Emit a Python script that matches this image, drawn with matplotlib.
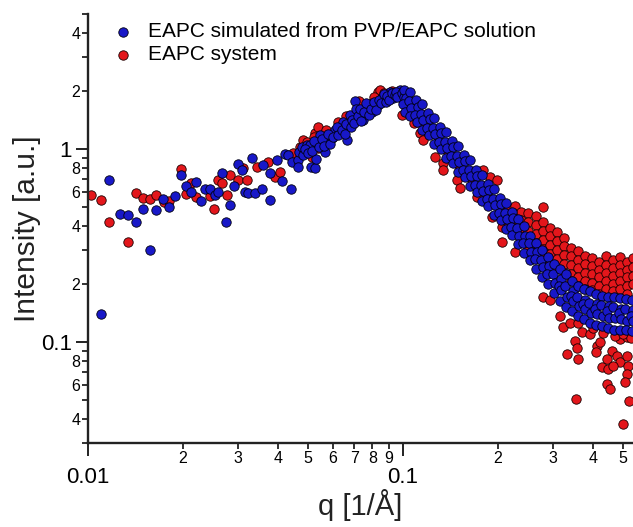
import numpy as np
import matplotlib.pyplot as plt
from matplotlib.ticker import LogLocator, FuncFormatter

plt.rcParams['font.family'] = ['Liberation Sans', 'DejaVu Sans']

# Blue series: EAPC simulated from PVP/EAPC solution
q_blue_low = [0.0110, 0.0117, 0.0126, 0.0134, 0.0142, 0.0150, 0.0157, 0.0164,
              0.0173, 0.0181, 0.0189, 0.0197, 0.0205, 0.0212, 0.0220, 0.0228,
              0.0235, 0.0244, 0.0253, 0.0259, 0.0266, 0.0274, 0.0282, 0.0290,
              0.0299, 0.0308, 0.0315, 0.0322, 0.0332, 0.0340, 0.0357, 0.0360,
              0.0378, 0.0378, 0.0398, 0.0413, 0.0422, 0.0430, 0.0442, 0.0444,
              0.0464, 0.0464, 0.0467, 0.0477, 0.0496, 0.0507, 0.0510, 0.0525,
              0.0530, 0.0533, 0.0545, 0.0565, 0.0570, 0.0595, 0.0607, 0.0631,
              0.0645, 0.0665, 0.0679, 0.0704, 0.0709, 0.0745, 0.0760, 0.0771,
              0.0800, 0.0831, 0.0860, 0.0909, 0.0930, 0.0978, 0.1000, 0.1026]
i_blue_low = [0.140, 0.690, 0.460, 0.455, 0.420, 0.490, 0.300, 0.485,
              0.550, 0.500, 0.570, 0.730, 0.640, 0.600, 0.675, 0.540,
              0.620, 0.620, 0.580, 0.600, 0.750, 0.420, 0.510, 0.640,
              0.840, 0.780, 0.600, 0.590, 0.900, 0.590, 0.620, 0.830,
              0.750, 0.545, 0.880, 0.680, 0.940, 0.930, 0.620, 0.857,
              0.880, 0.810, 0.970, 1.020, 1.050, 1.050, 0.810, 0.800,
              0.890, 1.070, 1.180, 0.965, 1.090, 1.140, 1.250, 1.220,
              1.380, 1.110, 1.500, 1.770, 1.610, 1.410, 1.590, 1.690,
              1.550, 1.690, 1.830, 1.970, 1.830, 2.020, 1.790, 1.900]

q_blue_ridge = [0.0480, 0.0490, 0.0500, 0.0515, 0.0520, 0.0540, 0.0555, 0.0560,
                0.0580, 0.0585, 0.0600, 0.0615, 0.0620, 0.0640, 0.0655, 0.0660,
                0.0685, 0.0690, 0.0700, 0.0720, 0.0730, 0.0735, 0.0750, 0.0765,
                0.0780, 0.0790, 0.0810, 0.0820, 0.0840, 0.0850, 0.0870, 0.0880,
                0.0890, 0.0900, 0.0920, 0.0940, 0.0950, 0.0960, 0.0990, 0.1010]
i_blue_ridge = [0.93, 1.00, 0.95, 0.98, 1.10, 1.02, 1.12, 1.03,
                1.20, 1.06, 1.15, 1.30, 1.18, 1.26, 1.20, 1.35,
                1.30, 1.42, 1.36, 1.48, 1.62, 1.40, 1.55, 1.72,
                1.50, 1.62, 1.75, 1.60, 1.80, 1.72, 1.92, 1.76,
                1.88, 1.80, 1.95, 1.90, 1.98, 1.86, 1.95, 1.86]

q_blue_band = [0.1007, 0.1019, 0.0998, 0.1013, 0.1052, 0.1046, 0.1063, 0.1049,
               0.1100, 0.1112, 0.1093, 0.1105, 0.1149, 0.1141, 0.1160, 0.1152,
               0.1201, 0.1214, 0.1195, 0.1208, 0.1254, 0.1247, 0.1266, 0.1258,
               0.1310, 0.1323, 0.1302, 0.1316, 0.1369, 0.1360, 0.1381, 0.1372,
               0.1430, 0.1444, 0.1422, 0.1436, 0.1494, 0.1486, 0.1508, 0.1498,
               0.1562, 0.1577, 0.1553, 0.1568, 0.1632, 0.1623, 0.1648, 0.1637,
               0.1705, 0.1721, 0.1696, 0.1711, 0.1781, 0.1772, 0.1798, 0.1786,
               0.1861, 0.1879, 0.1851, 0.1867, 0.1945, 0.1935, 0.1963, 0.1951,
               0.2032, 0.2051, 0.2021, 0.2039, 0.2123, 0.2112, 0.2143, 0.2130,
               0.2218, 0.2239, 0.2206, 0.2225, 0.2317, 0.2305, 0.2339, 0.2324,
               0.2421, 0.2444, 0.2408, 0.2429, 0.2530, 0.2516, 0.2554, 0.2538,
               0.2643, 0.2668, 0.2629, 0.2651, 0.2761, 0.2746, 0.2787, 0.2770,
               0.2885, 0.2912, 0.2869, 0.2894, 0.3014, 0.2998, 0.3043, 0.3023,
               0.3149, 0.3179, 0.3132, 0.3165, 0.3140, 0.3290, 0.3272, 0.3321, 0.3300,
               0.3438, 0.3470, 0.3419, 0.3455, 0.3430, 0.3592, 0.3573, 0.3626, 0.3603,
               0.3753, 0.3788, 0.3733, 0.3770, 0.3745, 0.3922, 0.3901, 0.3959, 0.3934,
               0.4098, 0.4137, 0.4076, 0.4116, 0.4088, 0.4282, 0.4259, 0.4322, 0.4295,
               0.4474, 0.4516, 0.4450, 0.4494, 0.4462, 0.4675, 0.4650, 0.4719, 0.4690,
               0.4885, 0.4931, 0.4859, 0.4906, 0.4872, 0.5104, 0.5077, 0.5152, 0.5120,
               0.5333, 0.5380, 0.5305, 0.5360, 0.5320]
i_blue_band = [2.017, 1.834, 1.707, 1.552, 1.970, 1.769, 1.628, 1.480,
               1.790, 1.647, 1.498, 1.378, 1.707, 1.516, 1.411, 1.254,
               1.534, 1.428, 1.284, 1.181, 1.445, 1.284, 1.195, 1.061,
               1.299, 1.209, 1.087, 1.000, 1.224, 1.087, 1.012, 0.899,
               1.100, 1.024, 0.920, 0.847, 1.036, 0.920, 0.857, 0.761,
               0.931, 0.867, 0.779, 0.717, 0.877, 0.779, 0.726, 0.644,
               0.779, 0.726, 0.652, 0.600, 0.734, 0.652, 0.607, 0.539,
               0.660, 0.614, 0.552, 0.508, 0.622, 0.552, 0.514, 0.456,
               0.559, 0.520, 0.467, 0.430, 0.526, 0.467, 0.435, 0.386,
               0.473, 0.440, 0.396, 0.360, 0.435, 0.391, 0.356, 0.323,
               0.400, 0.356, 0.327, 0.290, 0.356, 0.327, 0.294, 0.267,
               0.327, 0.294, 0.270, 0.240, 0.301, 0.267, 0.246, 0.218,
               0.277, 0.249, 0.224, 0.201, 0.255, 0.226, 0.203, 0.180,
               0.240, 0.211, 0.196, 0.185, 0.164, 0.224, 0.196, 0.172, 0.151,
               0.206, 0.183, 0.174, 0.164, 0.144, 0.196, 0.172, 0.153, 0.136,
               0.189, 0.166, 0.157, 0.148, 0.131, 0.183, 0.160, 0.142, 0.126,
               0.178, 0.157, 0.148, 0.139, 0.122, 0.174, 0.155, 0.136, 0.121,
               0.172, 0.153, 0.144, 0.134, 0.118, 0.172, 0.151, 0.133, 0.116,
               0.170, 0.149, 0.141, 0.131, 0.115, 0.168, 0.148, 0.129, 0.115,
               0.166, 0.146, 0.137, 0.128, 0.114]

# Red series: EAPC system
q_red_low = [0.0102, 0.0110, 0.0117, 0.0134, 0.0142, 0.0150, 0.0157, 0.0164,
             0.0174, 0.0181, 0.0197, 0.0205, 0.0212, 0.0220, 0.0244, 0.0251,
             0.0259, 0.0266, 0.0276, 0.0282, 0.0299, 0.0310, 0.0320, 0.0344,
             0.0373, 0.0392, 0.0407, 0.0448, 0.0470, 0.0480, 0.0496, 0.0515,
             0.0525, 0.0537, 0.0537, 0.0578, 0.0620, 0.0660, 0.0725, 0.0725,
             0.0797, 0.0831, 0.0845, 0.0888, 0.0966, 0.0990]
i_red_low = [0.579, 0.545, 0.420, 0.330, 0.590, 0.560, 0.550, 0.580,
             0.530, 0.540, 0.790, 0.585, 0.670, 0.565, 0.570, 0.490,
             0.690, 0.670, 0.580, 0.735, 0.690, 0.800, 0.690, 0.810,
             0.860, 0.720, 0.760, 0.950, 1.020, 1.110, 1.087, 0.910,
             1.210, 1.010, 1.300, 1.210, 1.380, 1.480, 1.530, 1.770,
             1.730, 1.970, 2.020, 1.880, 1.950, 1.500]

q_red_ridge = [0.052, 0.057, 0.065, 0.069, 0.076, 0.081, 0.087, 0.092, 0.095,
               0.101, 0.104, 0.106, 0.108, 0.109, 0.111, 0.113, 0.113, 0.116,
               0.118, 0.123, 0.1263, 0.129, 0.1339, 0.1339, 0.136, 0.142,
               0.148, 0.150, 0.1517, 0.158, 0.166, 0.1714, 0.175, 0.1789,
               0.185, 0.189, 0.1915, 0.196, 0.1983, 0.205, 0.2068, 0.2068, 0.2266]
i_red_ridge = [1.15, 1.25, 1.33, 1.45, 1.62, 1.85, 1.95, 2.00, 1.90,
               1.95, 1.80, 1.70, 1.36, 1.58, 1.65, 1.45, 1.21, 1.11,
               1.33, 1.22, 0.909, 1.10, 0.847, 0.779, 1.00, 0.92,
               0.69, 0.83, 0.629, 0.76, 0.70, 0.565, 0.63, 0.779,
               0.58, 0.717, 0.446, 0.52, 0.692, 0.47, 0.396, 0.331, 0.294]

q_red_cluster = [0.2162, 0.2162, 0.2162,
                 0.2266, 0.2266, 0.2266, 0.2266,
                 0.2375, 0.2375, 0.2375, 0.2375,
                 0.2498, 0.2498, 0.2498, 0.2498, 0.2498,
                 0.2643, 0.2643, 0.2643, 0.2643, 0.2643,
                 0.2786, 0.2786, 0.2786, 0.2786, 0.2786, 0.2786,
                 0.2928, 0.2928, 0.2928, 0.2928, 0.2928,
                 0.3083, 0.3083, 0.3083, 0.3083, 0.3083,
                 0.3245, 0.3245, 0.3245, 0.3245, 0.3245,
                 0.3415, 0.3415, 0.3415, 0.3415, 0.3415,
                 0.3592, 0.3592, 0.3592, 0.3592, 0.3592,
                 0.3782, 0.3782, 0.3782, 0.3782, 0.3782,
                 0.3981, 0.3981, 0.3981, 0.3981, 0.3981,
                 0.4190, 0.4190, 0.4190, 0.4190, 0.4190,
                 0.4409, 0.4409, 0.4409, 0.4409, 0.4409,
                 0.4642, 0.4642, 0.4642, 0.4642, 0.4642,
                 0.4885, 0.4885, 0.4885, 0.4885, 0.4885,
                 0.5141, 0.5141, 0.5141, 0.5141, 0.5141,
                 0.5370, 0.5370, 0.5370, 0.5370]
i_red_cluster = [0.496, 0.451, 0.405,
                 0.508, 0.462, 0.420, 0.373,
                 0.473, 0.430, 0.386, 0.347,
                 0.467, 0.420, 0.377, 0.339, 0.308,
                 0.451, 0.405, 0.364, 0.327, 0.294,
                 0.502, 0.420, 0.377, 0.339, 0.304, 0.274,
                 0.391, 0.356, 0.319, 0.287, 0.258,
                 0.373, 0.335, 0.301, 0.270, 0.243,
                 0.347, 0.316, 0.284, 0.255, 0.229,
                 0.308, 0.280, 0.252, 0.226, 0.206,
                 0.297, 0.267, 0.243, 0.218, 0.196,
                 0.280, 0.255, 0.229, 0.208, 0.189,
                 0.274, 0.249, 0.224, 0.203, 0.185,
                 0.261, 0.237, 0.216, 0.194, 0.178,
                 0.280, 0.252, 0.229, 0.208, 0.189,
                 0.267, 0.243, 0.221, 0.201, 0.183,
                 0.277, 0.252, 0.229, 0.208, 0.189,
                 0.261, 0.237, 0.216, 0.196, 0.178,
                 0.274, 0.246, 0.221, 0.199]

q_red_tail = [0.2783, 0.2928, 0.3149, 0.3221, 0.3390, 0.3516, 0.3568, 0.3316,
              0.3592, 0.4128, 0.4098, 0.4282, 0.4474, 0.4607, 0.4442, 0.4779,
              0.4885, 0.5141, 0.5179, 0.5141, 0.5067, 0.4442, 0.4541, 0.3542,
              0.5217, 0.4993, 0.3700, 0.3922, 0.4885, 0.5141, 0.4220, 0.4642,
              0.3600, 0.4000, 0.4300, 0.4700, 0.5000, 0.5300]
i_red_tail = [0.172, 0.166, 0.136, 0.119, 0.126, 0.1008, 0.0928, 0.0864,
              0.0814, 0.0950, 0.0885, 0.0740, 0.0723, 0.0895, 0.0814, 0.0844,
              0.0786, 0.0844, 0.0749, 0.0681, 0.0619, 0.0605, 0.0570, 0.0506,
              0.0494, 0.0376, 0.1122, 0.1096, 0.1032, 0.1058, 0.0997, 0.0749,
              0.125, 0.118, 0.112, 0.108, 0.110, 0.105]

q_blue = q_blue_low + q_blue_ridge + q_blue_band
i_blue = i_blue_low + i_blue_ridge + i_blue_band
q_red = q_red_low + q_red_ridge + q_red_cluster + q_red_tail
i_red = i_red_low + i_red_ridge + i_red_cluster + i_red_tail

fig = plt.figure(figsize=(6.33, 5.27), dpi=100)
ax = fig.add_axes([0.139, 0.1594, 0.861, 0.814])

ax.scatter(q_red, i_red, s=46, color='#e3161b', edgecolors='#1a0000',
           linewidths=0.6, zorder=2, label='EAPC system')
ax.scatter(q_blue, i_blue, s=46, color='#1818c8', edgecolors='#000010',
           linewidths=0.6, zorder=3, label='EAPC simulated from PVP/EAPC solution')

ax.set_xscale('log')
ax.set_yscale('log')
ax.set_xlim(0.01, 0.537)
ax.set_ylim(0.03, 5.0)

# ticks: decades with big labels, digits for the minor ones
def fmt_major(v, pos):
    return f"{v:g}"

def mantissa(v):
    return int(round(v / 10 ** np.floor(np.log10(v) + 1e-9)))

def fmt_minor_x(v, pos):
    return str(mantissa(v))

def fmt_minor_y(v, pos):
    m = mantissa(v)
    return str(m) if m % 2 == 0 else ""

for axis in (ax.xaxis, ax.yaxis):
    axis.set_major_locator(LogLocator(base=10, numticks=10))
    axis.set_minor_locator(LogLocator(base=10, subs=np.arange(2, 10), numticks=20))
    axis.set_major_formatter(FuncFormatter(fmt_major))
ax.xaxis.set_minor_formatter(FuncFormatter(fmt_minor_x))
ax.yaxis.set_minor_formatter(FuncFormatter(fmt_minor_y))

ax.tick_params(which='major', length=9, width=1.4, labelsize=16, color='#222222')
ax.tick_params(which='minor', length=4, width=1.3, labelsize=11.5, pad=1.5, color='#222222')
ax.tick_params(axis='x', which='major', pad=8)
ax.tick_params(axis='y', which='major', pad=2.5)

for side in ('top', 'right'):
    ax.spines[side].set_visible(False)
for side in ('left', 'bottom'):
    ax.spines[side].set_linewidth(1.7)
    ax.spines[side].set_color('#222222')

ax.set_xlabel('q [1/Å]', fontsize=21, labelpad=1, color='#222222')
ax.set_ylabel('Intensity [a.u.]', fontsize=21.5, labelpad=0, color='#222222')

handles, labels = ax.get_legend_handles_labels()
ax.legend(handles[::-1], labels[::-1], loc='upper left',
          bbox_to_anchor=(113 / 633, 1 - 22 / 527), bbox_transform=fig.transFigure,
          frameon=False, fontsize=15, handlelength=1.0, handletextpad=0.7,
          borderpad=0, borderaxespad=0, labelspacing=0.2, scatterpoints=1)

fig.savefig('out.png', dpi=100)
